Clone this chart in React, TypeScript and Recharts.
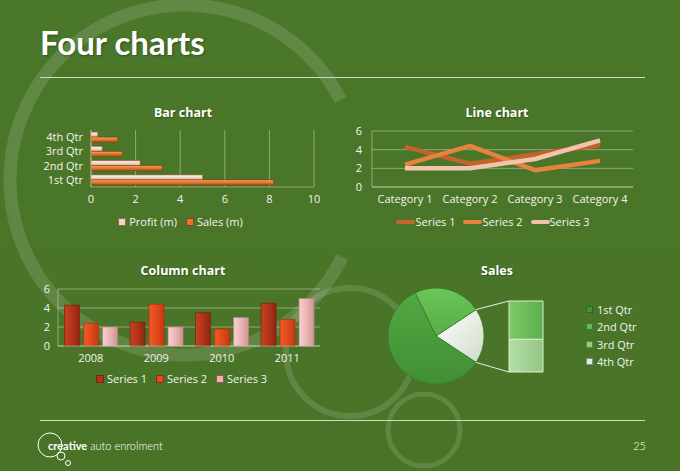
import React from 'react';
import {
  BarChart, Bar, XAxis, YAxis, CartesianGrid, Legend,
  LineChart, Line, PieChart, Pie, Cell,
} from 'recharts';

// ---------- data ----------
const quarters = ['1st Qtr', '2nd Qtr', '3rd Qtr', '4th Qtr'];
const salesM = [8.2, 3.2, 1.4, 1.2];
const profitM = [5.0, 2.2, 0.5, 0.3];
const barTicks = [0, 2, 4, 6, 8, 10];

const lineCategories = ['Category 1', 'Category 2', 'Category 3', 'Category 4'];
const lineSeries1 = [4.3, 2.5, 3.5, 4.5];
const lineSeries2 = [2.4, 4.4, 1.8, 2.8];
const lineSeries3 = [2.0, 2.0, 3.0, 5.0];
const valueTicks = [0, 2, 4, 6];

const years = ['2008', '2009', '2010', '2011'];
const colSeries1 = [4.3, 2.5, 3.5, 4.5];
const colSeries2 = [2.4, 4.4, 1.8, 2.8];
const colSeries3 = [2.0, 2.0, 3.0, 5.0];

// ---------- styles ----------
const FONT = '"Open Sans", Lato, sans-serif';
const TITLE_FONT = 'Lato, "Open Sans", sans-serif';
const BG = '#4b7629';
const TEXT = '#f3f3ef';
const GRID = 'rgba(255,255,255,0.38)';
const DECO = 'rgba(255,255,255,0.13)';

const legendColors: Record<string, string> = {
  'Profit (m)': '#f3d5c3',
  'Sales (m)': '#e2762a',
  'Series 1': '#c8652c',
  'Series 2': '#e8823c',
  'Series 3': '#f3c0aa',
};
const colLegendColors: Record<string, string> = {
  'Series 1': '#b3341a',
  'Series 2': '#e34b1e',
  'Series 3': '#eab3b3',
};
const pieLegendColors = ['#3f9333', '#5fbd4b', '#95cf86', '#e2eadf'];

// ---------- derived tables ----------
const barData = quarters.map((q, i) => ({ quarter: q, profit: profitM[i], sales: salesM[i] }));
const lineData = lineCategories.map((c, i) => ({ cat: c, s1: lineSeries1[i], s2: lineSeries2[i], s3: lineSeries3[i] }));
const colData = years.map((y, i) => ({ year: y, s1: colSeries1[i], s2: colSeries2[i], s3: colSeries3[i] }));

const otherValue = salesM[2] + salesM[3];
const totalSales = salesM.reduce((a, b) => a + b, 0);
const otherHalfAngle = (otherValue / totalSales) * 180;
const pieData = [
  { name: 'Other', value: otherValue },
  { name: quarters[1], value: salesM[1] },
  { name: quarters[0], value: salesM[0] },
];
const pieFills = ['url(#pOther)', 'url(#p2)', 'url(#p1)'];
const secData = [{ name: 'Other', q3: salesM[2], q4: salesM[3] }];

// pie layout
const PIE_LEFT = 380, PIE_TOP = 280, PIE_BOX = 112, PIE_R = 48;
const PIE_CX = PIE_LEFT + PIE_BOX / 2, PIE_CY = PIE_TOP + PIE_BOX / 2;
const SEC_LEFT = 505, SEC_TOP = 295, SEC_W = 42, SEC_H = 85, SEC_MT = 6, SEC_MB = 8, SEC_BAR = 34;

const tickStyle = { fill: TEXT, fontSize: 11, fontFamily: FONT };

const makeLegend = (kind: 'square' | 'line', colors: Record<string, string>) => (props: any) => {
  const items = props.payload || [];
  return (
    <div style={{ display: 'flex', justifyContent: 'center', alignItems: 'center', fontFamily: FONT, fontSize: 11, color: TEXT, lineHeight: '14px', height: 14 }}>
      {items.map((it: any) => (
        <span key={it.value} style={{ display: 'inline-flex', alignItems: 'center', marginRight: kind === 'line' ? 8 : 9 }}>
          {kind === 'square' ? (
            <span style={{ display: 'inline-block', width: 6, height: 6, background: colors[it.value], border: '1px solid rgba(80,30,10,0.6)', marginRight: 3 }} />
          ) : (
            <span style={{ display: 'inline-block', width: 19, height: 4, background: colors[it.value], borderRadius: 2 }} />
          )}
          {it.value}
        </span>
      ))}
    </div>
  );
};

function Background() {
  const cx = 185, cy = 180, r = 175;
  const a1 = Math.asin((100 - cy) / r);
  const a2 = Math.asin((257 - cy) / r);
  const p1 = [cx + r * Math.cos(a1), cy + r * Math.sin(a1)];
  const p2 = [cx + r * Math.cos(a2), cy + r * Math.sin(a2)];
  return (
    <svg width={680} height={471} style={{ position: 'absolute', left: 0, top: 0 }}>
      <defs>
        <linearGradient id="bgGrad" x1="0" y1="0" x2="0" y2="1">
          <stop offset="0" stopColor="#4b772a" />
          <stop offset="1" stopColor="#497428" />
        </linearGradient>
      </defs>
      <rect x={0} y={0} width={680} height={471} fill="url(#bgGrad)" />
      <path d={`M ${p1[0]} ${p1[1]} A ${r} ${r} 0 1 0 ${p2[0]} ${p2[1]}`} fill="none" stroke={DECO} strokeWidth={13} />
      <circle cx={350} cy={352} r={64} fill="none" stroke={DECO} strokeWidth={6} />
      <circle cx={424} cy={430} r={36} fill="none" stroke={DECO} strokeWidth={5} />
      <text x={40} y={55} fill="#ffffff" fontFamily={TITLE_FONT} fontWeight={700} fontSize={33} style={{ textShadow: '1px 1px 2px rgba(0,0,0,0.35)' }}>Four charts</text>
      <line x1={40} y1={77.5} x2={645} y2={77.5} stroke="#cfdcc4" strokeWidth={1} />
      <line x1={40} y1={420.5} x2={645} y2={420.5} stroke="#cfdcc4" strokeWidth={1} />
      <g fontFamily={FONT} fontWeight={700} fontSize={12.5} fill="#ffffff" textAnchor="middle" style={{ textShadow: '1px 1px 1px rgba(0,0,0,0.3)' }}>
        <text x={183} y={117}>Bar chart</text>
        <text x={497} y={117}>Line chart</text>
        <text x={183} y={275}>Column chart</text>
        <text x={497} y={275}>Sales</text>
      </g>
      <circle cx={50} cy={445} r={12} fill="none" stroke="#ffffff" strokeWidth={1} />
      <circle cx={61} cy={456} r={4} fill="none" stroke="#ffffff" strokeWidth={1} />
      <circle cx={68} cy={463} r={2.5} fill="none" stroke="#ffffff" strokeWidth={1} />
      <text x={48} y={450} fill="#ffffff" fontFamily={TITLE_FONT} fontSize={11}>
        <tspan fontWeight={700}>creative</tspan>
        <tspan dx={3} fontWeight={300}>auto enrolment</tspan>
      </text>
      <text x={646} y={450} fill="#ffffff" fontFamily={TITLE_FONT} fontSize={11} fontWeight={300} textAnchor="end">25</text>
    </svg>
  );
}

function BarPanel() {
  return (
    <div style={{ position: 'absolute', left: 0, top: 100 }}>
      <BarChart width={340} height={135} data={barData} layout="vertical"
        margin={{ top: 30, right: 26, left: 0, bottom: 6 }} barCategoryGap="15%" barGap={0}>
        <defs>
          <linearGradient id="gSales" x1="0" y1="0" x2="0" y2="1">
            <stop offset="0" stopColor="#f6b27a" />
            <stop offset="0.45" stopColor="#e57a2c" />
            <stop offset="1" stopColor="#b85818" />
          </linearGradient>
          <linearGradient id="gProfit" x1="0" y1="0" x2="0" y2="1">
            <stop offset="0" stopColor="#fffaf5" />
            <stop offset="0.5" stopColor="#f4d8c6" />
            <stop offset="1" stopColor="#d6a88e" />
          </linearGradient>
        </defs>
        <CartesianGrid horizontal={false} stroke={GRID} />
        <XAxis type="number" domain={[0, 10]} ticks={barTicks} tick={tickStyle} tickLine={false}
          axisLine={{ stroke: GRID }} height={28} interval={0} />
        <YAxis type="category" dataKey="quarter" reversed tick={tickStyle} tickLine={false}
          axisLine={{ stroke: GRID }} width={91} interval={0} />
        <Legend verticalAlign="bottom" wrapperStyle={{ left: 0, width: 370 }}
          content={makeLegend('square', legendColors)} />
        <Bar dataKey="profit" name="Profit (m)" fill="url(#gProfit)" stroke="#a86a4c" strokeWidth={0.7} isAnimationActive={false} />
        <Bar dataKey="sales" name="Sales (m)" fill="url(#gSales)" stroke="#8a3f10" strokeWidth={0.7} isAnimationActive={false} />
      </BarChart>
    </div>
  );
}

function LinePanel() {
  return (
    <div style={{ position: 'absolute', left: 330, top: 100 }}>
      <LineChart width={330} height={135} data={lineData}
        margin={{ top: 31, right: 27, left: 0, bottom: 6 }}>
        <CartesianGrid vertical={false} stroke={GRID} />
        <XAxis dataKey="cat" tick={tickStyle} tickLine={false} axisLine={{ stroke: GRID }}
          padding={{ left: 33, right: 33 }} height={28} interval={0} />
        <YAxis domain={[0, 6]} ticks={valueTicks} tick={tickStyle} tickLine={false}
          axisLine={{ stroke: GRID }} width={42} tickMargin={4} interval={0} />
        <Legend verticalAlign="bottom" wrapperStyle={{ left: 0, width: 334 }}
          content={makeLegend('line', legendColors)} />
        <Line dataKey="s1" name="Series 1" stroke="#c4622c" strokeWidth={4.5} dot={false} strokeLinejoin="round" isAnimationActive={false} />
        <Line dataKey="s2" name="Series 2" stroke="#e8823c" strokeWidth={4.5} dot={false} strokeLinejoin="round" isAnimationActive={false} />
        <Line dataKey="s3" name="Series 3" stroke="#f3c3ae" strokeWidth={4.5} dot={false} strokeLinejoin="round" isAnimationActive={false} />
      </LineChart>
    </div>
  );
}

function ColumnPanel() {
  return (
    <div style={{ position: 'absolute', left: 0, top: 262 }}>
      <BarChart width={340} height={130} data={colData}
        margin={{ top: 27, right: 20, left: 0, bottom: 6 }} barCategoryGap="10%" barGap={4}>
        <defs>
          <linearGradient id="c1" x1="0" y1="0" x2="1" y2="0">
            <stop offset="0" stopColor="#c8421f" />
            <stop offset="0.5" stopColor="#b2341a" />
            <stop offset="1" stopColor="#8c2612" />
          </linearGradient>
          <linearGradient id="c2" x1="0" y1="0" x2="1" y2="0">
            <stop offset="0" stopColor="#f25a26" />
            <stop offset="0.5" stopColor="#e2491d" />
            <stop offset="1" stopColor="#c23a14" />
          </linearGradient>
          <linearGradient id="c3" x1="0" y1="0" x2="1" y2="0">
            <stop offset="0" stopColor="#f8d2d2" />
            <stop offset="0.5" stopColor="#ebb4b4" />
            <stop offset="1" stopColor="#cf9494" />
          </linearGradient>
        </defs>
        <CartesianGrid vertical={false} stroke={GRID} />
        <XAxis dataKey="year" tick={tickStyle} tickLine={false} axisLine={{ stroke: GRID }} height={26} interval={0} />
        <YAxis domain={[0, 6]} ticks={valueTicks} tick={tickStyle} tickLine={false}
          axisLine={{ stroke: GRID }} width={58} interval={0} />
        <Legend verticalAlign="bottom" wrapperStyle={{ left: 0, width: 372 }}
          content={makeLegend('square', colLegendColors)} />
        <Bar dataKey="s1" name="Series 1" fill="url(#c1)" stroke="#7a200e" strokeWidth={0.7} isAnimationActive={false} />
        <Bar dataKey="s2" name="Series 2" fill="url(#c2)" stroke="#a83210" strokeWidth={0.7} isAnimationActive={false} />
        <Bar dataKey="s3" name="Series 3" fill="url(#c3)" stroke="#b88080" strokeWidth={0.7} isAnimationActive={false} />
      </BarChart>
    </div>
  );
}

function PiePanel() {
  const t = (otherHalfAngle * Math.PI) / 180;
  const ex = PIE_CX + PIE_R * Math.cos(t);
  const eyTop = PIE_CY - PIE_R * Math.sin(t);
  const eyBot = PIE_CY + PIE_R * Math.sin(t);
  const barLeft = SEC_LEFT + (SEC_W - SEC_BAR) / 2;
  const barTop = SEC_TOP + SEC_MT;
  const barBottom = SEC_TOP + SEC_H - SEC_MB;
  return (
    <>
      <div style={{ position: 'absolute', left: PIE_LEFT, top: PIE_TOP }}>
        <PieChart width={PIE_BOX} height={PIE_BOX} margin={{ top: 0, right: 0, bottom: 0, left: 0 }}>
          <defs>
            <linearGradient id="p1" x1="0" y1="0" x2="0" y2="1">
              <stop offset="0" stopColor="#52a842" />
              <stop offset="1" stopColor="#428f35" />
            </linearGradient>
            <linearGradient id="p2" x1="0" y1="0" x2="0" y2="1">
              <stop offset="0" stopColor="#6cc657" />
              <stop offset="1" stopColor="#56ae45" />
            </linearGradient>
            <linearGradient id="pOther" x1="0" y1="0" x2="1" y2="1">
              <stop offset="0" stopColor="#ffffff" />
              <stop offset="1" stopColor="#cfdcc9" />
            </linearGradient>
          </defs>
          <Pie data={pieData} dataKey="value" nameKey="name" cx="50%" cy="50%" outerRadius={PIE_R}
            startAngle={-otherHalfAngle} endAngle={360 - otherHalfAngle} stroke="#3a7a2c" strokeWidth={0.8}
            isAnimationActive={false}>
            {pieData.map((d, i) => (
              <Cell key={d.name} fill={pieFills[i]} />
            ))}
          </Pie>
        </PieChart>
      </div>
      <div style={{ position: 'absolute', left: SEC_LEFT, top: SEC_TOP }}>
        <BarChart width={SEC_W} height={SEC_H} data={secData} barSize={SEC_BAR}
          margin={{ top: SEC_MT, right: 0, left: 0, bottom: SEC_MB }}>
          <defs>
            <linearGradient id="s3g" x1="0" y1="0" x2="1" y2="0">
              <stop offset="0" stopColor="#7ccb68" />
              <stop offset="1" stopColor="#5fae4d" />
            </linearGradient>
            <linearGradient id="s4g" x1="0" y1="0" x2="1" y2="0">
              <stop offset="0" stopColor="#b3dea6" />
              <stop offset="1" stopColor="#93c685" />
            </linearGradient>
          </defs>
          <XAxis dataKey="name" hide />
          <YAxis hide domain={[0, 'dataMax']} />
          <Bar dataKey="q4" stackId="a" fill="url(#s4g)" stroke="#dcefd4" strokeWidth={1} isAnimationActive={false} />
          <Bar dataKey="q3" stackId="a" fill="url(#s3g)" stroke="#dcefd4" strokeWidth={1} isAnimationActive={false} />
        </BarChart>
      </div>
      <svg width={680} height={471} style={{ position: 'absolute', left: 0, top: 0, pointerEvents: 'none' }}>
        <line x1={ex} y1={eyTop} x2={barLeft} y2={barTop} stroke="#e8efe4" strokeWidth={1} />
        <line x1={ex} y1={eyBot} x2={barLeft} y2={barBottom} stroke="#e8efe4" strokeWidth={1} />
      </svg>
      <div style={{ position: 'absolute', left: 586, top: 301, fontFamily: FONT, fontSize: 11, color: TEXT, lineHeight: '17.3px' }}>
        {quarters.map((q, i) => (
          <div key={q} style={{ display: 'flex', alignItems: 'center' }}>
            <span style={{ display: 'inline-block', width: 5, height: 5, background: pieLegendColors[i], border: '1px solid rgba(30,60,20,0.5)', marginRight: 4 }} />
            {q}
          </div>
        ))}
      </div>
    </>
  );
}

export default function App() {
  return (
    <div style={{ position: 'absolute', left: 0, top: 0, width: 680, height: 471, overflow: 'hidden', background: BG, fontFamily: FONT }}>
      <Background />
      <BarPanel />
      <LinePanel />
      <ColumnPanel />
      <PiePanel />
    </div>
  );
}
